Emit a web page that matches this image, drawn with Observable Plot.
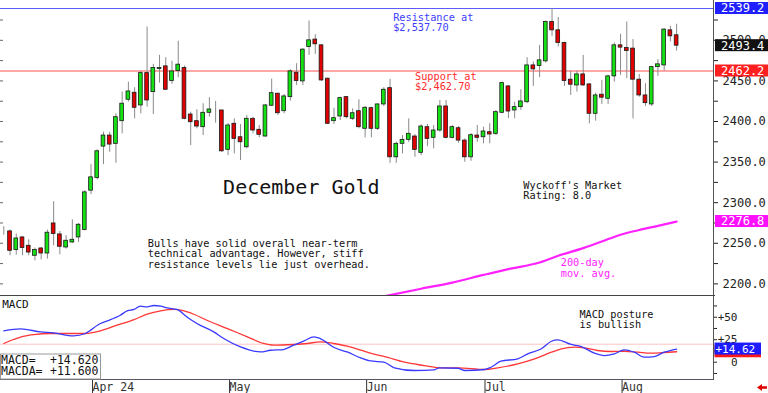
<!DOCTYPE html>
<html><head><meta charset="utf-8">
<script src="https://cdn.jsdelivr.net/npm/d3@7"></script>
<script src="https://cdn.jsdelivr.net/npm/@observablehq/plot@0.6"></script>
<style>
html,body{margin:0;padding:0;background:#fff;}
#chart{width:768px;height:393px;overflow:hidden;position:relative;}
#chart svg{display:block;}
</style></head><body><div id="chart"></div>
<script>
// ---- Daily candles (index 0 = mid-March 2024 ... 108 = Aug 14 2024) ----
const opens = [2266.3,2264.6,2241.6,2257.2,2246.9,2234.6,2243.6,2237.4,2274.4,2260.9,
2244.8,2251.0,2257.2,2266.3,2314.8,2330.5,2369.1,2382.7,2372.5,2400.4,
2426.8,2435.4,2419.8,2459.6,2436.2,2464.6,2467.9,2449.8,2462.1,2465.8,
2408.6,2400.4,2393.0,2410.7,2413.6,2413.6,2365.1,2397.2,2380.6,2368.3,
2403.3,2389.8,2381.5,2419.4,2434.2,2412.7,2430.0,2460.1,2449.4,2491.7,
2500.9,2493.8,2452.7,2400.4,2406.2,2430.0,2403.3,2412.7,2391.0,2416.4,
2391.0,2421.0,2441.1,2355.9,2372.5,2377.4,2381.5,2361.4,2393.0,2379.9,
2388.9,2418.5,2379.9,2391.7,2376.5,2355.9,2382.7,2380.6,2386.8,2384.8,
2410.7,2443.2,2413.6,2417.7,2423.8,2469.1,2468.3,2474.1,2522.6,2512.3,
2496.7,2451.5,2444.4,2458.0,2445.7,2409.5,2433.0,2428.0,2455.6,2493.8,
2490.5,2489.8,2451.5,2432.1,2421.0,2467.0,2469.1,2512.3,2506.2];
const highs = [2270.4,2266.3,2261.4,2258.0,2254.3,2244.1,2244.8,2266.3,2301.2,2264.6,
2259.3,2279.0,2274.4,2314.8,2346.9,2365.1,2386.8,2386.8,2409.5,2436.2,
2448.5,2441.6,2462.1,2516.4,2470.4,2481.5,2478.6,2474.1,2498.8,2468.3,
2411.5,2414.4,2421.9,2429.3,2424.7,2413.6,2397.5,2403.3,2396.3,2407.4,
2405.3,2395.1,2421.0,2452.2,2434.9,2433.3,2463.8,2471.2,2489.8,2523.8,
2507.0,2494.7,2453.5,2416.4,2430.0,2430.9,2415.7,2426.8,2418.5,2417.7,
2421.9,2441.6,2451.9,2374.4,2382.7,2403.3,2384.0,2396.0,2396.3,2395.1,
2425.9,2425.9,2395.1,2393.8,2378.6,2385.2,2395.1,2393.0,2397.2,2413.6,
2448.5,2444.4,2423.8,2439.1,2478.6,2473.2,2493.8,2523.8,2539.2,2528.0,
2497.9,2462.1,2462.1,2481.5,2446.5,2434.9,2450.6,2456.8,2496.7,2507.4,
2522.6,2500.9,2458.0,2446.5,2467.9,2476.2,2514.4,2517.3,2519.8];
const lows = [2260.1,2234.6,2235.4,2234.6,2234.6,2228.4,2229.6,2230.5,2246.9,2235.8,
2242.8,2249.8,2251.0,2265.4,2309.9,2328.0,2346.9,2362.1,2348.5,2384.8,
2423.8,2403.3,2409.5,2417.7,2408.6,2447.3,2438.3,2445.7,2454.0,2402.1,
2370.4,2391.0,2382.7,2405.3,2397.9,2361.7,2358.0,2360.1,2351.9,2366.3,
2384.8,2379.9,2380.6,2418.5,2407.4,2409.5,2425.1,2444.4,2444.4,2481.5,
2482.7,2449.4,2396.3,2396.3,2401.2,2403.3,2401.2,2391.0,2379.9,2379.9,
2388.9,2418.5,2348.5,2348.5,2360.1,2374.1,2355.9,2358.0,2369.1,2366.3,
2386.8,2378.6,2378.6,2373.2,2349.8,2351.0,2374.4,2372.5,2372.5,2382.7,
2409.5,2403.7,2403.3,2413.6,2421.9,2443.2,2454.0,2472.0,2504.9,2491.7,
2443.2,2432.1,2436.2,2443.2,2397.2,2400.4,2421.0,2421.0,2448.5,2456.8,
2452.7,2403.3,2430.0,2418.5,2418.5,2455.6,2462.1,2497.9,2486.8];
const closes = [2266.3,2240.7,2255.9,2244.1,2238.6,2241.6,2237.4,2263.0,2261.4,2245.7,
2253.1,2254.3,2272.8,2312.7,2331.2,2363.3,2382.7,2371.6,2405.3,2421.9,
2437.0,2416.9,2459.6,2425.9,2465.8,2465.8,2439.1,2461.7,2470.0,2403.3,
2399.1,2393.8,2410.7,2414.8,2413.6,2363.3,2395.1,2378.6,2374.4,2403.3,
2388.9,2383.6,2419.8,2434.9,2410.2,2430.9,2461.7,2449.8,2488.5,2500.0,
2495.1,2450.6,2397.2,2404.1,2428.8,2405.3,2410.2,2393.0,2416.9,2391.0,
2421.0,2439.1,2355.9,2372.5,2377.4,2384.8,2365.1,2393.8,2378.6,2388.9,
2418.5,2379.9,2393.0,2376.5,2355.9,2383.1,2379.9,2387.7,2384.0,2411.5,
2447.3,2412.3,2417.7,2424.7,2469.1,2464.2,2475.3,2522.6,2512.3,2496.7,
2449.8,2445.3,2458.0,2444.4,2409.5,2432.1,2429.3,2455.6,2493.8,2491.0,
2486.8,2451.5,2432.1,2422.6,2467.0,2470.4,2513.2,2504.9,2493.4];

// 200-day moving average (read at day positions)
const maDay = [61, 67, 72, 77, 81, 86, 89, 93, 96, 99, 102, 105, 108];
const maVal = [2184.5, 2194.0, 2201.6, 2211.0, 2218.2, 2226.3, 2234.6, 2244.0, 2252.2, 2260.5, 2266.3, 2271.5, 2276.8];

// MACD (blue) and MACDA signal (red)
const macdDay = [0,2.7,5.9,8,11.2,13.1,15.5,16.6,18.7,19.8,20.9,21.9,23,24.1,25.2,26.2,27.8,29.4,31,33.7,35.3,38,41.2,42.8,44.9,46.5,48.2,49.8,50.8,53,55.1,57.3,58.9,61,62.7,65.9,69.1,69.9,72.9,74,77.2,78.2,79.8,82.5,84.1,86.3,87.9,88.9,91.1,92.7,94.8,96.4,98,99.6,101.2,102.8,104.4,106,108];
const macdVal = [34.8,37,33.7,32.6,29.2,31.9,43,45.9,52.2,57,58.6,62.2,61.4,63,62.2,60.3,58.6,50.3,43,33.7,26.3,17,11.4,13.3,14.1,18.9,23.7,28.1,26.3,16.3,11.4,4.8,1.4,0,-6.2,-9.2,-8.4,-6.2,-6.7,-9.2,-8.1,-5.6,1.1,3.8,9.3,14.9,23.3,24.9,19.7,17.4,10,7.4,9.3,13.8,11.1,5.6,6.3,11.1,14.62];
const sigDay = [0,1.1,2.7,4.8,7.5,10.2,13.1,15.5,18.2,20.9,23,25.2,27.3,28.4,30.5,32.6,35.9,39.1,41.7,43.3,46.5,48.7,50.8,53,55.1,57.3,59.4,61,64.3,67.5,69.9,72.9,77.2,79.3,82.5,85.2,87.9,89.5,91.6,93.2,95.3,97.5,99.6,101.8,103.9,106,108];
const sigVal = [20.8,24.1,28,30.6,31.9,31.9,31.9,34.8,41.1,47.4,53.3,57,58.6,57.8,53.3,46.6,37.4,28.1,20.8,18.9,19.7,20.8,22.6,20.8,17.8,13.3,8.9,6.5,0,-3.7,-6.2,-6.2,-8.1,-6.2,-1.8,3.8,11.1,14.9,16.7,16,13,11.9,12.2,11.1,10,10.8,11.6];

// Axis ticks / labels
const monthDay = [14, 36, 58, 77, 99];
const monthLabels = ["Apr 24", "May", "Jun", "Jul", "Aug"];
const priceTicks = d3.range(2200, 2550, 25);
const macdTicks = d3.range(-12.5, 72, 12.5);
const resistance = 2539.2;
const support = 2462.2;
const macdRef = 20;

// ---- build tables ----
const candles = opens.map((o, i) => ({i, o, h: highs[i], l: lows[i], c: closes[i]}));
const ma = maDay.map((x, k) => ({x, y: maVal[k]}));
const macd = macdDay.map((x, k) => ({x, y: macdVal[k]}));
const sig = sigDay.map((x, k) => ({x, y: sigVal[k]}));
const lastClose = closes[closes.length - 1];
const lastMa = maVal[maVal.length - 1];
const lastMacd = macdVal[macdVal.length - 1];
const lastSig = sigVal[sigVal.length - 1];

const MONO = "'DejaVu Sans Mono', monospace";
const xDomain = [-0.53, 113.92];

function getArgs(args) {
  const scales = args.find(a => a && !Array.isArray(a) && typeof a.y === "function") || args[1];
  const dims = args.find(a => a && typeof a.width === "number" && "marginRight" in a) || args[3];
  return {scales, dims};
}

function tagMark(items, {left = 2, right = 0, h = 12, size = 12, pad = 7}) {
  return function(...args) {
    const {scales, dims} = getArgs(args);
    const g = d3.create("svg:g").attr("text-anchor", "start");
    const x0 = dims.width - dims.marginRight + left;
    for (const t of items) {
      const y = scales.y(t.value);
      g.append("rect").attr("x", x0).attr("y", y - h / 2).attr("width", dims.width - right - x0).attr("height", h).attr("fill", t.color);
      if (t.label) g.append("text").attr("x", x0 + pad).attr("y", y).attr("dy", "0.37em").attr("text-anchor", "start")
        .attr("fill", "#fff").style("font-size", size + "px").style("font-family", MONO).text(t.label);
    }
    return g.node();
  };
}

const sign = v => (v > 0 ? "+" : "");

// ---- main price panel ----
const main = Plot.plot({
  width: 768, height: 296,
  marginTop: 0, marginRight: 55, marginBottom: 0, marginLeft: 0,
  style: {fontFamily: MONO, fontSize: "10.25px", background: "#fff", color: "#222"},
  x: {domain: xDomain, axis: null},
  y: {domain: [2184.43, 2549.05]},
  marks: [
    Plot.ruleY([resistance], {stroke: "#5a5aff", strokeWidth: 1}),
    Plot.ruleY([support], {stroke: "#ffa6a6", strokeWidth: 2}),
    Plot.ruleX(candles, {x: "i", y1: "l", y2: "h", stroke: "#8a8a8a", strokeWidth: 1}),
    Plot.rect(candles, {x1: d => d.i - 0.3, x2: d => d.i + 0.3, y1: "o", y2: "c",
      fill: d => d.c >= d.o ? "#14e014" : "#e00000", stroke: "#1a1a1a", strokeWidth: 0.8}),
    Plot.line(ma, {x: "x", y: "y", stroke: "#ff22ff", strokeWidth: 2.2, curve: "monotone-x", clip: true}),
    Plot.text(["Resistance at\n$2,537.70"], {x: 62.5, y: 2532.8, textAnchor: "start", lineAnchor: "top", fill: "#3d3dff", fontSize: 10.25, lineHeight: 0.98}),
    Plot.text(["Support at\n$2,462.70"], {x: 66, y: 2459.8, textAnchor: "start", lineAnchor: "top", fill: "#ff2a2a", fontSize: 10.25, lineHeight: 0.98}),
    Plot.text(["December Gold"], {x: 35.2, y: 2328.0, textAnchor: "start", lineAnchor: "top", fill: "#111", fontSize: 20}),
    Plot.text(["Bulls have solid overall near-term\ntechnical advantage. However, stiff\nresistance levels lie just overhead."], {x: 23.1, y: 2255.2, textAnchor: "start", lineAnchor: "top", fill: "#111", fontSize: 10.25, lineHeight: 1.04}),
    Plot.text(["Wyckoff's Market\nRating: 8.0"], {x: 83.4, y: 2325.1, textAnchor: "start", lineAnchor: "top", fill: "#111", fontSize: 10.25, lineHeight: 0.98}),
    Plot.text(["200-day\nmov. avg."], {x: 89.4, y: 2231.7, textAnchor: "start", lineAnchor: "top", fill: "#ff22ff", fontSize: 10.25, lineHeight: 1.07}),
    Plot.axisY({anchor: "right", ticks: priceTicks, tickSize: 4, tickPadding: 5, fontSize: 12, color: "#222", label: null,
      tickFormat: d => d % 50 === 0 ? d.toFixed(1) : ""}),
    Plot.axisY({anchor: "left", ticks: priceTicks, tickSize: -3, tickFormat: () => "", color: "#666", label: null}),
    Plot.frame({anchor: "right", stroke: "#555"}),
    Plot.frame({anchor: "bottom", stroke: "#444", strokeWidth: 3}),
    tagMark([
      {value: resistance, color: "#1f1fff", label: resistance.toFixed(1)},
      {value: lastClose, color: "#111", label: lastClose.toFixed(1)},
      {value: support, color: "#ff1f1f", label: support.toFixed(1)},
      {value: lastMa, color: "#ff10ff", label: lastMa.toFixed(1)}
    ], {left: 2, h: 12, size: 12, pad: 6})
  ]
});

// ---- MACD panel ----
function infoBox(...args) {
  const {dims} = getArgs(args);
  const g = d3.create("svg:g").attr("text-anchor", "start").style("font-family", MONO).style("font-size", "11.5px");
  const bottom = dims.height - dims.marginBottom;
  g.append("rect").attr("x", 0.5).attr("y", bottom - 25).attr("width", 100).attr("height", 25)
    .attr("fill", "#fff").attr("stroke", "#999");
  const rows = [["MACD=", lastMacd], ["MACDA=", lastSig]];
  rows.forEach(([k, v], j) => {
    g.append("text").attr("x", 1).attr("y", bottom - 15 + j * 11).attr("text-anchor", "start").attr("fill", "#111").text(k);
    g.append("text").attr("x", 50).attr("y", bottom - 15 + j * 11).attr("text-anchor", "start").attr("fill", "#111").text(sign(v) + v.toFixed(3));
  });
  // small red scroll arrow, bottom right
  const W = dims.width;
  g.append("path").attr("d", `M${W-11},${bottom+8.5}l5,-3.5v2.3h5v2.4h-5v2.3z`).attr("fill", "#e00000");
  return g.node();
}

const macdPlot = Plot.plot({
  width: 768, height: 97,
  marginTop: 0, marginRight: 55, marginBottom: 14, marginLeft: 0,
  style: {fontFamily: MONO, fontSize: "10.25px", background: "#fff", color: "#222"},
  x: {domain: xDomain},
  y: {domain: [-19.2, 73.0]},
  marks: [
    Plot.ruleY([macdRef], {stroke: "#ffc4c4", strokeWidth: 1}),
    Plot.line(sig, {x: "x", y: "y", stroke: "#ff3636", strokeWidth: 1.3, curve: "monotone-x"}),
    Plot.line(macd, {x: "x", y: "y", stroke: "#3a3aff", strokeWidth: 1.3, curve: "monotone-x"}),
    Plot.text(["MACD"], {x: -0.25, y: 68.6, textAnchor: "start", lineAnchor: "top", fill: "#111", fontSize: 11}),
    Plot.text(["MACD posture\nis bullish"], {x: 92.4, y: 56.5, textAnchor: "start", lineAnchor: "top", fill: "#111", fontSize: 10.25, lineHeight: 0.95}),
    Plot.axisY({anchor: "right", ticks: macdTicks, tickSize: 3, tickPadding: 21, textAnchor: "end", fontSize: 11, color: "#222", label: null,
      tickFormat: d => d % 25 === 0 ? sign(d) + d : ""}),
    Plot.axisX({anchor: "bottom", ticks: monthDay, tickSize: 14, tickPadding: -11, textAnchor: "start", dx: 1.5, fontSize: 11.5, color: "#333", label: null,
      tickFormat: d => monthLabels[monthDay.indexOf(d)]}),
    Plot.frame({anchor: "right", stroke: "#555"}),
    Plot.frame({anchor: "bottom", stroke: "#556", strokeWidth: 1.2}),
    infoBox,
    tagMark([
      {value: lastSig, color: "#ff1a1a", label: ""},
      {value: lastMacd, color: "#1c1cff", label: sign(lastMacd) + lastMacd.toFixed(2)}
    ], {left: 1.5, right: 7, h: 12, size: 11, pad: 1})
  ]
});

const root = document.getElementById("chart");
root.appendChild(main);
root.appendChild(macdPlot);
</script>
</body></html>
